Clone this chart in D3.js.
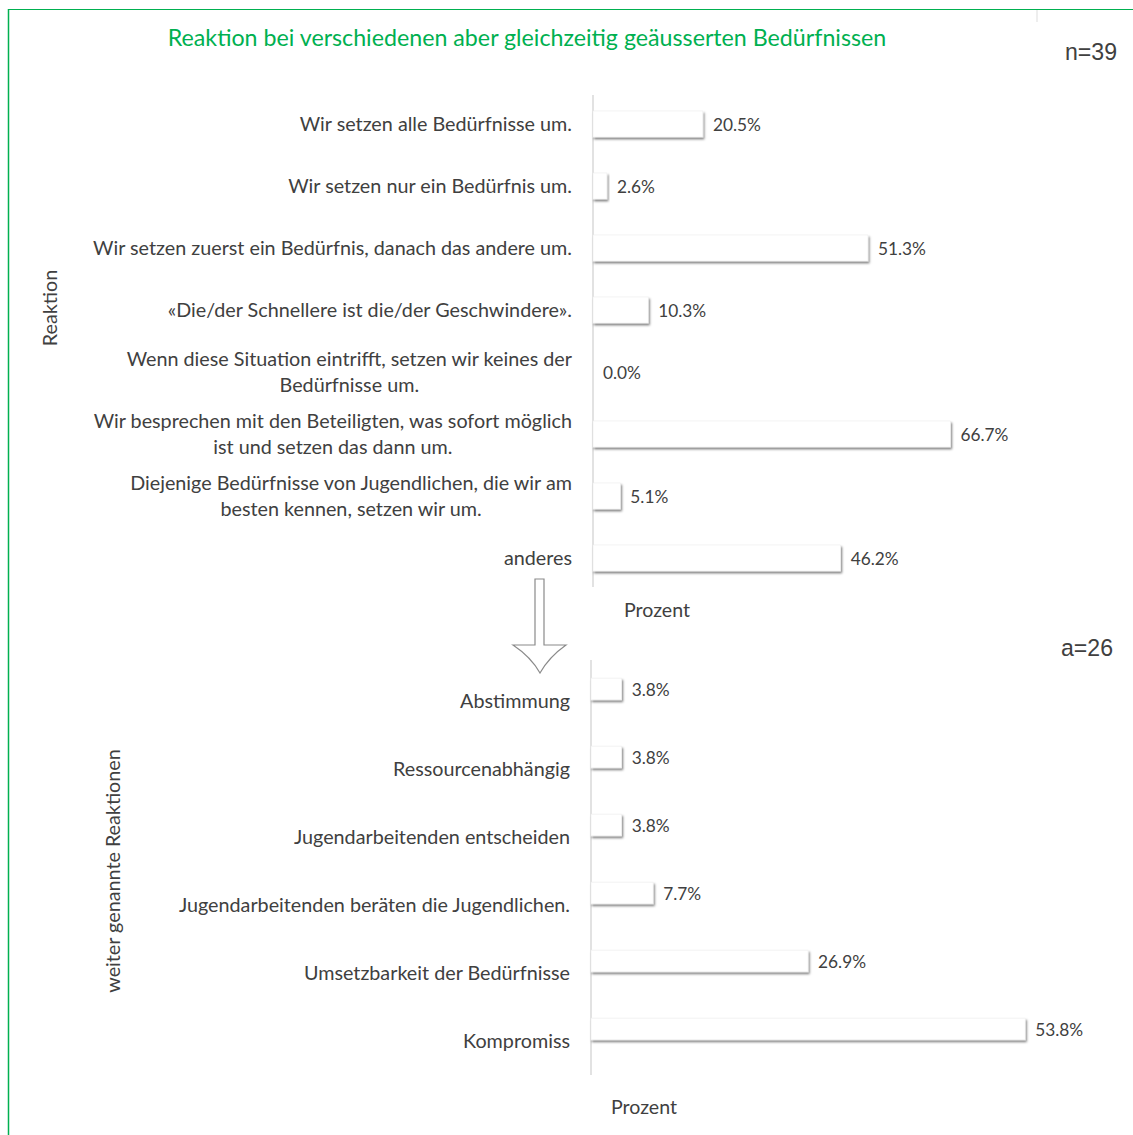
<!DOCTYPE html>
<html><head><meta charset="utf-8">
<script src="https://cdn.jsdelivr.net/npm/d3@7"></script>
<style>
html,body{margin:0;padding:0;background:#fff;}
svg{display:block;}
text{font-family:Lato,"Open Sans",sans-serif;}
</style></head>
<body>
<script>
// ---- data ----
const titleText = "Reaktion bei verschiedenen aber gleichzeitig geäusserten Bedürfnissen";
const topCategories = [
  ["Wir setzen alle Bedürfnisse um."],
  ["Wir setzen nur ein Bedürfnis um."],
  ["Wir setzen zuerst ein Bedürfnis, danach das andere um."],
  ["«Die/der Schnellere ist die/der Geschwindere»."],
  ["Wenn diese Situation eintrifft, setzen wir keines der", "Bedürfnisse um."],
  ["Wir besprechen mit den Beteiligten, was sofort möglich", "ist und setzen das dann um."],
  ["Diejenige Bedürfnisse von Jugendlichen, die wir am", "besten kennen, setzen wir um."],
  ["anderes"]
];
const topValues = [20.5, 2.6, 51.3, 10.3, 0.0, 66.7, 5.1, 46.2];
const bottomCategories = [
  "Abstimmung",
  "Ressourcenabhängig",
  "Jugendarbeitenden entscheiden",
  "Jugendarbeitenden beräten die Jugendlichen.",
  "Umsetzbarkeit der Bedürfnisse",
  "Kompromiss"
];
const bottomValues = [3.8, 3.8, 3.8, 7.7, 26.9, 53.8];
const topN = "n=39";
const bottomN = "a=26";
const topYTitle = "Reaktion";
const bottomYTitle = "weiter genannte Reaktionen";
const xTitle = "Prozent";

// ---- drawing ----
const W = 1133, H = 1135;
const DY = 2;
const svg = d3.select("body").append("svg").attr("width", W).attr("height", H);
const defs = svg.append("defs");
const f = defs.append("filter").attr("id","shadow").attr("x","-10%").attr("y","-30%").attr("width","130%").attr("height","190%");
f.append("feDropShadow").attr("dx",1.2).attr("dy",2).attr("stdDeviation",1.1)
  .attr("flood-color","#000").attr("flood-opacity",0.5);

const green = "#00b050";
const textCol = "#404040";

// border
svg.append("line").attr("x1",8).attr("x2",W).attr("y1",9.5).attr("y2",9.5).attr("stroke",green).attr("stroke-width",1.2);
svg.append("line").attr("x1",8.5).attr("x2",8.5).attr("y1",9).attr("y2",H).attr("stroke",green).attr("stroke-width",1.5);
svg.append("line").attr("x1",1037).attr("x2",1037).attr("y1",10).attr("y2",22).attr("stroke","#ddd").attr("stroke-width",1);

function fitSize(txt, target, base, family, weight){
  const t = svg.append("text").attr("font-size", base).text(txt);
  if(family) t.style("font-family", family);
  if(weight) t.attr("font-weight", weight);
  const w = t.node().getComputedTextLength();
  t.remove();
  return base * target / w;
}

// title
const titleSize = fitSize(titleText, 719, 20);
svg.append("text").attr("x", 527).attr("y", 38).attr("dy", DY).attr("text-anchor","middle")
  .attr("dominant-baseline","middle").attr("font-size", titleSize).attr("fill", green).text(titleText);

const labelSize = fitSize("Wir setzen zuerst ein Bedürfnis, danach das andere um.", 479, 18);
const valSize = fitSize("66.7%", 48, 16);
const protoSize = fitSize(xTitle, 66, 18);
const nSize = fitSize(topN, 52, 22, '"Liberation Sans", Arial, sans-serif');

// ---- top chart ----
const xTop = d3.scaleLinear().domain([0, 100]).range([593, 593 + 536]);
const yTop = d3.scaleBand().domain(d3.range(topValues.length)).range([93, 589]).paddingInner(0.58).paddingOuter(0.29);

svg.append("line").attr("x1", xTop(0)).attr("x2", xTop(0)).attr("y1", 95).attr("y2", 587)
  .attr("stroke","#d9d9d9").attr("stroke-width",1.5);

const gTop = svg.append("g");
gTop.selectAll("rect").data(topValues).join("rect")
  .attr("x", xTop(0)).attr("y", (d,i)=>yTop(i))
  .attr("width", d=>Math.max(0, xTop(d)-xTop(0))).attr("height", yTop.bandwidth())
  .attr("fill","#fff").attr("stroke","#ececec").attr("stroke-width",0.6)
  .attr("filter", d=> d>0 ? "url(#shadow)" : null);

gTop.selectAll("text.val").data(topValues).join("text").attr("class","val")
  .attr("x", d=>xTop(d)+10).attr("y",(d,i)=>yTop(i)+yTop.bandwidth()/2+1).attr("dy", DY)
  .attr("dominant-baseline","middle").attr("font-size", valSize).attr("fill", textCol)
  .text(d=>d3.format(".1f")(d)+"%");

// top category labels (multi-line centered blocks, right-aligned)
topCategories.forEach((lines, i)=>{
  const cy = yTop(i) + yTop.bandwidth()/2;
  const right = 572;
  const lh = 26;
  const g = gTop.append("g");
  const ts = lines.map((ln, k)=> g.append("text")
    .attr("y", cy + (k - (lines.length-1)/2)*lh).attr("dy", DY)
    .attr("dominant-baseline","middle").attr("font-size", labelSize).attr("fill", textCol).text(ln));
  const widths = ts.map(t=>t.node().getComputedTextLength());
  const maxW = d3.max(widths);
  const cx = right - maxW/2;
  ts.forEach(t=>t.attr("x", cx).attr("text-anchor","middle"));
});

svg.append("text").attr("x", 657).attr("y", 610).attr("dy", DY).attr("text-anchor","middle").attr("dominant-baseline","middle")
  .attr("font-size", protoSize).attr("fill", textCol).text(xTitle);
svg.append("text").attr("transform","translate(50,308) rotate(-90)").attr("dy", DY).attr("text-anchor","middle")
  .attr("dominant-baseline","middle").attr("font-size", labelSize).attr("fill", textCol).text(topYTitle);
svg.append("text").attr("x", 1117).attr("y", 52).attr("dy", DY).attr("text-anchor","end").attr("dominant-baseline","middle")
  .style("font-family",'"Liberation Sans", Arial, sans-serif').attr("font-size", nSize).attr("fill", textCol).text(topN);

// arrow
svg.append("path")
  .attr("d","M535,579 L544,579 L544,645 L566,645 Q549,657 540,673 Q531,657 513,645 L535,645 Z")
  .attr("fill","#fff").attr("stroke","#8a8a8a").attr("stroke-width",1.2).attr("stroke-linejoin","miter");

// ---- bottom chart ----
const xBot = d3.scaleLinear().domain([0, 100]).range([591, 591 + 807]);
const yBot = d3.scaleBand().domain(d3.range(bottomValues.length)).range([655, 1063]).paddingInner(0.68).paddingOuter(0.34);

svg.append("line").attr("x1", xBot(0)).attr("x2", xBot(0)).attr("y1", 660).attr("y2", 1075)
  .attr("stroke","#d9d9d9").attr("stroke-width",1.5);

const gBot = svg.append("g");
gBot.selectAll("rect").data(bottomValues).join("rect")
  .attr("x", xBot(0)).attr("y", (d,i)=>yBot(i))
  .attr("width", d=>Math.max(0, xBot(d)-xBot(0))).attr("height", yBot.bandwidth())
  .attr("fill","#fff").attr("stroke","#ececec").attr("stroke-width",0.6)
  .attr("filter","url(#shadow)");

gBot.selectAll("text.val").data(bottomValues).join("text").attr("class","val")
  .attr("x", d=>xBot(d)+10).attr("y",(d,i)=>yBot(i)+yBot.bandwidth()/2+1).attr("dy", DY)
  .attr("dominant-baseline","middle").attr("font-size", valSize).attr("fill", textCol)
  .text(d=>d3.format(".1f")(d)+"%");

gBot.selectAll("text.cat").data(bottomCategories).join("text").attr("class","cat")
  .attr("x", 570).attr("y",(d,i)=>yBot(i)+yBot.bandwidth()/2+12).attr("dy", DY)
  .attr("text-anchor","end").attr("dominant-baseline","middle")
  .attr("font-size", labelSize).attr("fill", textCol).text(d=>d);

svg.append("text").attr("x", 644).attr("y", 1107).attr("dy", DY).attr("text-anchor","middle").attr("dominant-baseline","middle")
  .attr("font-size", protoSize).attr("fill", textCol).text(xTitle);
svg.append("text").attr("transform","translate(113,871) rotate(-90)").attr("dy", DY).attr("text-anchor","middle")
  .attr("dominant-baseline","middle").attr("font-size", labelSize).attr("fill", textCol).text(bottomYTitle);
svg.append("text").attr("x", 1113).attr("y", 648).attr("dy", DY).attr("text-anchor","end").attr("dominant-baseline","middle")
  .style("font-family",'"Liberation Sans", Arial, sans-serif').attr("font-size", nSize).attr("fill", textCol).text(bottomN);
</script>
</body></html>
